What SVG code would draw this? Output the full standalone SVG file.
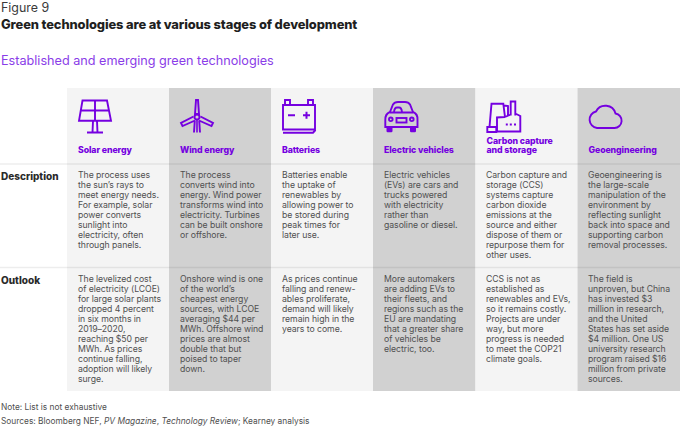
<svg xmlns="http://www.w3.org/2000/svg" width="680" height="426" viewBox="0 0 680 426">
<style>
text{font-family:"Inter","Liberation Sans",sans-serif}
.l{fill:#f4f4f4}.d{fill:#d1d1d1}
.rule{stroke:#000;stroke-opacity:.07;stroke-width:1.5}
.b{font-size:8.7px;fill:#505050;letter-spacing:-.05px}
.h{font-size:8.75px;font-weight:800;fill:#7500e0;letter-spacing:-.1px}
.r{font-size:10px;font-weight:800;fill:#2a2a2a}
.n{font-size:8.35px;fill:#4f4f4f}
.i{fill:none;stroke:#7500e0;stroke-width:1.9;stroke-linejoin:miter}
.f{fill:#7500e0}
</style>
<text x="1" y="12" font-size="12.4" fill="#3a3a3a">Figure 9</text>
<text x="1" y="29" font-size="12.9" font-weight="800" fill="#1f1f1f" letter-spacing="-.12">Green technologies are at various stages of development</text>
<text x="1" y="65" font-size="12.65" fill="#8a3de8">Established and emerging green technologies</text>
<g id="columns">
<rect class="l" x="67" y="88" width="102" height="303"/>
<rect class="d" x="169" y="88" width="102" height="303"/>
<rect class="l" x="271" y="88" width="102" height="303"/>
<rect class="d" x="373" y="88" width="102.500" height="303"/>
<rect class="l" x="475.500" y="88" width="102" height="303"/>
<rect class="d" x="577.500" y="88" width="102.500" height="303"/>
</g>
<g id="rules">
<line class="rule" x1="0" x2="680" y1="164" y2="164"/>
<line class="rule" x1="0" x2="680" y1="267.500" y2="267.500"/>
</g>
<g id="row-labels">
<text class="r" x="1" y="180">Description</text>
<text class="r" x="1" y="284">Outlook</text>
</g>
<g id="solar">
<path class="i" d="M82.500 100.500H107L111 120.800H79ZM95 100.500V120.800M81 110.500H109M93 121L92.500 132.500M97 121L97.500 132.500M87 132.500H103"/>
<text class="h" x="78" y="153">Solar energy</text>
<text class="b"><tspan x="78" y="178">The process uses</tspan><tspan x="78" dy="10">the sun’s rays to</tspan><tspan x="78" dy="10">meet energy needs.</tspan><tspan x="78" dy="10">For example, solar</tspan><tspan x="78" dy="10">power converts</tspan><tspan x="78" dy="10">sunlight into</tspan><tspan x="78" dy="10">electricity, often</tspan><tspan x="78" dy="10">through panels.</tspan></text>
<text class="b"><tspan x="78" y="282">The levelized cost</tspan><tspan x="78" dy="10">of electricity (LCOE)</tspan><tspan x="78" dy="10">for large solar plants</tspan><tspan x="78" dy="10">dropped 4 percent</tspan><tspan x="78" dy="10">in six months in</tspan><tspan x="78" dy="10">2019–2020,</tspan><tspan x="78" dy="10">reaching $50 per</tspan><tspan x="78" dy="10">MWh. As prices</tspan><tspan x="78" dy="10">continue falling,</tspan><tspan x="78" dy="10">adoption will likely</tspan><tspan x="78" dy="10">surge.</tspan></text>
</g>
<g id="wind">
<path class="i" d="M196 100L195 114H199L198 100ZM194.800 120.500L194 132.500M199.200 120.500L200 132.500M193.500 116.500L181 123L182.500 126L195 120.500M200.500 116.500L213 123L211.500 126L199 120.500"/>
<path class="f" d="M196.200 120H197.800V132.500H196.200Z"/>
<circle class="i" cx="197" cy="117" r="2.500"/>
<text class="h" x="180" y="153">Wind energy</text>
<text class="b"><tspan x="180" y="178">The process</tspan><tspan x="180" dy="10">converts wind into</tspan><tspan x="180" dy="10">energy. Wind power</tspan><tspan x="180" dy="10">transforms wind into</tspan><tspan x="180" dy="10">electricity. Turbines</tspan><tspan x="180" dy="10">can be built onshore</tspan><tspan x="180" dy="10">or offshore.</tspan></text>
<text class="b"><tspan x="180" y="282">Onshore wind is one</tspan><tspan x="180" dy="10">of the world’s</tspan><tspan x="180" dy="10">cheapest energy</tspan><tspan x="180" dy="10">sources, with LCOE</tspan><tspan x="180" dy="10">averaging $44 per</tspan><tspan x="180" dy="10">MWh. Offshore wind</tspan><tspan x="180" dy="10">prices are almost</tspan><tspan x="180" dy="10">double that but</tspan><tspan x="180" dy="10">poised to taper</tspan><tspan x="180" dy="10">down.</tspan></text>
</g>
<g id="batteries">
<path class="i" d="M283 105H315V129.500H283ZM285 105V100H290V105M308 105V100H313V105M283 132.700H313L315.500 130"/>
<path class="f" d="M288 114.300H295V116.300H288ZM303 114.300H310V116.300H303ZM305.500 111.800H307.500V118.800H305.500Z"/>
<text class="h" x="282" y="153">Batteries</text>
<text class="b"><tspan x="282" y="178">Batteries enable</tspan><tspan x="282" dy="10">the uptake of</tspan><tspan x="282" dy="10">renewables by</tspan><tspan x="282" dy="10">allowing power to</tspan><tspan x="282" dy="10">be stored during</tspan><tspan x="282" dy="10">peak times for</tspan><tspan x="282" dy="10">later use.</tspan></text>
<text class="b"><tspan x="282" y="282">As prices continue</tspan><tspan x="282" dy="10">falling and renew-</tspan><tspan x="282" dy="10">ables proliferate,</tspan><tspan x="282" dy="10">demand will likely</tspan><tspan x="282" dy="10">remain high in the</tspan><tspan x="282" dy="10">years to come.</tspan></text>
</g>
<g id="ev">
<path class="i" d="M390 112L393 104.500Q394.500 102 398 102H405Q408.500 102 410 104.500L413 112Q418 114 417.500 120V127H385.300V120Q385 114 390 112Z"/>
<path class="i" d="M390 112.500H413M394 112Q394.500 107.500 397 107.500H399Q401.500 107.500 402 112" stroke-width="1.500"/>
<circle class="i" cx="390.800" cy="119.300" r="1.800" stroke-width="1.500"/><circle class="i" cx="411.800" cy="119.300" r="1.800" stroke-width="1.500"/>
<rect class="i" x="396.500" y="118" width="10" height="4.500" stroke-width="1.500"/>
<path class="f" d="M386.500 126H392.500V131Q392.500 132.300 391.300 132.300H387.700Q386.500 132.300 386.500 131ZM410 126H416V131Q416 132.300 414.800 132.300H411.200Q410 132.300 410 131Z"/>
<text class="h" x="384" y="153">Electric vehicles</text>
<text class="b"><tspan x="384" y="178">Electric vehicles</tspan><tspan x="384" dy="10">(EVs) are cars and</tspan><tspan x="384" dy="10">trucks powered</tspan><tspan x="384" dy="10">with electricity</tspan><tspan x="384" dy="10">rather than</tspan><tspan x="384" dy="10">gasoline or diesel.</tspan></text>
<text class="b"><tspan x="384" y="282">More automakers</tspan><tspan x="384" dy="10">are adding EVs to</tspan><tspan x="384" dy="10">their fleets, and</tspan><tspan x="384" dy="10">regions such as the</tspan><tspan x="384" dy="10">EU are mandating</tspan><tspan x="384" dy="10">that a greater share</tspan><tspan x="384" dy="10">of vehicles be</tspan><tspan x="384" dy="10">electric, too.</tspan></text>
</g>
<g id="ccs">
<path class="i" d="M489.500 127L491.500 103.700H503.300L505 117M487.300 127H496.300V132H487.300ZM497 131.500V117.500L505 117M504 105.500L508 106V115.500M510.700 115.500V101.500H515.300V115.500M497 131.500H520.300V116L515.300 113.500M505 117L510.700 114.500"/>
<path class="f" d="M505.800 123.400H507.800V125.400H505.800ZM509.800 123.400H511.800V125.400H509.800ZM514 123.400H516V125.400H514Z"/>
<text class="h"><tspan x="486.500" y="144">Carbon capture</tspan><tspan x="486.500" dy="9">and storage</tspan></text>
<text class="b"><tspan x="486" y="178">Carbon capture and</tspan><tspan x="486" dy="10">storage (CCS)</tspan><tspan x="486" dy="10">systems  capture</tspan><tspan x="486" dy="10">carbon dioxide</tspan><tspan x="486" dy="10">emissions at the</tspan><tspan x="486" dy="10">source and either</tspan><tspan x="486" dy="10">dispose of them or</tspan><tspan x="486" dy="10">repurpose them for</tspan><tspan x="486" dy="10">other uses.</tspan></text>
<text class="b"><tspan x="486" y="282">CCS is not as</tspan><tspan x="486" dy="10">established as</tspan><tspan x="486" dy="10">renewables and EVs,</tspan><tspan x="486" dy="10">so it remains costly.</tspan><tspan x="486" dy="10">Projects are under</tspan><tspan x="486" dy="10">way, but more</tspan><tspan x="486" dy="10">progress is needed</tspan><tspan x="486" dy="10">to meet the COP21</tspan><tspan x="486" dy="10">climate goals.</tspan></text>
</g>
<g id="geo">
<path class="i" d="M597 128H614.500A7.300 7.300 0 0 0 615.500 113.500A10.500 10.500 0 0 0 596 111.500A8.400 8.400 0 0 0 597 128Z"/>
<text class="h" x="588.500" y="153">Geoengineering</text>
<text class="b"><tspan x="588" y="178">Geoengineering is</tspan><tspan x="588" dy="10">the large-scale</tspan><tspan x="588" dy="10">manipulation of the</tspan><tspan x="588" dy="10">environment by</tspan><tspan x="588" dy="10">reflecting sunlight</tspan><tspan x="588" dy="10">back into space and</tspan><tspan x="588" dy="10">supporting carbon</tspan><tspan x="588" dy="10">removal processes.</tspan></text>
<text class="b"><tspan x="588" y="282">The field is</tspan><tspan x="588" dy="10">unproven, but China</tspan><tspan x="588" dy="10">has invested $3</tspan><tspan x="588" dy="10">million in research,</tspan><tspan x="588" dy="10">and the United</tspan><tspan x="588" dy="10">States has set aside</tspan><tspan x="588" dy="10">$4 million. One US</tspan><tspan x="588" dy="10">university research</tspan><tspan x="588" dy="10">program raised $16</tspan><tspan x="588" dy="10">million from private</tspan><tspan x="588" dy="10">sources.</tspan></text>
</g>
<g id="notes">
<text class="n" x="1" y="410">Note: List is not exhaustive</text>
<text class="n" x="1" y="424">Sources: Bloomberg NEF, <tspan font-style="italic">PV Magazine</tspan>, <tspan font-style="italic">Technology Review</tspan>; Kearney analysis</text>
</g>
</svg>
